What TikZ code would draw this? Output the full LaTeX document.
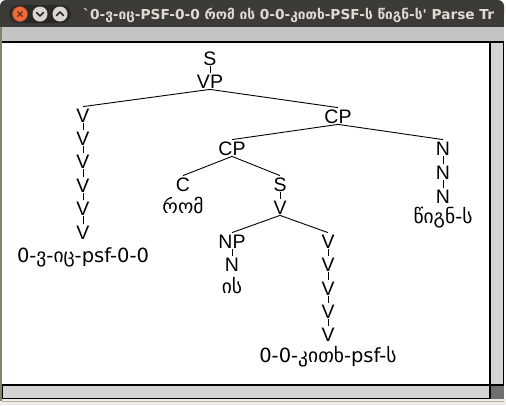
\documentclass[tikz,border=0pt]{standalone}
\usepackage{fontspec}
\setmainfont{Liberation Sans}
\newfontfamily\ka{DejaVu Sans}
\newfontfamily\tf{DejaVu Sans}
\definecolor{tbar}{HTML}{3C3B37}
\definecolor{tbtext}{HTML}{DFDBD2}
\definecolor{band}{HTML}{C4C4C4}
\definecolor{sbar}{HTML}{D4D4D4}
\definecolor{cornerc}{HTML}{6F6F6F}
\definecolor{wborder}{HTML}{877F6C}
\definecolor{bottomc}{HTML}{EFEBE6}
\definecolor{closeo}{HTML}{EF6A3A}
\definecolor{btn}{HTML}{DAD7D0}
\definecolor{pill}{HTML}{2A2926}
\tikzset{
  lab/.style={font=\fontsize{19.5}{20}\selectfont, inner sep=1.2pt, text height=14pt, text depth=0pt},
  leaf/.style={font=\ka\fontsize{19.5}{20}\selectfont, inner sep=0pt},
  edge/.style={draw=black, line width=0.9pt},
  chev/.style={draw=pill, line width=1.6pt, line cap=round, line join=round}
}
\begin{document}
\begin{tikzpicture}[x=1pt,y=-1pt]
\useasboundingbox (0,0) rectangle (506,405);
\fill[white] (0,0) rectangle (506,405);
% window frame
\fill[tbar, rounded corners=6pt] (0,0) rectangle (504,20);
\fill[tbar] (0,10) rectangle (504,27);
\fill[band] (2,27) rectangle (504,42);
\fill[bottomc] (0,399) rectangle (506,405);
\draw[wborder, line width=2pt] (1,27) -- (1,401);
\draw[wborder!60, line width=0.8pt] (2,401) -- (504,401);
% canvas
\fill[white] (2,42) rectangle (490,385);
% scrollbars
\fill[sbar] (490,42) rectangle (504,385);
\fill[sbar] (2,385) rectangle (490,399);
\fill[cornerc] (490,385) rectangle (504,399);
\draw[black, line width=1.3pt] (2,42) -- (504,42);
\draw[black, line width=1.2pt] (490,42) -- (490,399);
\draw[black, line width=1.2pt] (490,385) -- (504,385);
\draw[black, line width=1.2pt] (503.4,42) -- (503.4,385);
\draw[black, line width=1.2pt] (2.6,385) rectangle (490,398.4);
% buttons
\fill[pill, rounded corners=9pt] (9,5) rectangle (71,23);
\node[circle, fill=closeo, draw=closeo!70!black, line width=0.6pt, minimum size=15pt, inner sep=0pt] (bclose) at (20,14) {};
\node[circle, fill=btn, minimum size=15pt, inner sep=0pt] (bmin) at (40,14) {};
\node[circle, fill=btn, minimum size=15pt, inner sep=0pt] (bmax) at (60,14) {};
\draw[draw=closeo!40!black, line width=1.3pt] (17.5,11.5) -- (22.5,16.5) (17.5,16.5) -- (22.5,11.5);
\draw[chev] (36.5,12.5) -- (40,16) -- (43.5,12.5);
\draw[chev] (56.5,15.5) -- (60,12) -- (63.5,15.5);
% title
\node[anchor=base west, inner sep=0pt, text=tbtext, font=\tf\bfseries\fontsize{13.7}{15}\selectfont] (title) at (83,19)
  {`0-ვ-იც-PSF-0-0 რომ ის 0-0-კითხ-PSF-ს წიგნ-ს' Parse Tr};
% tree
\node[lab] (S) at (210,58) {S};
\node[lab] (VP) at (210,81) {VP};
\node[lab] (V1) at (83,115) {V};
\node[lab] (V2) at (83,138) {V};
\node[lab] (V3) at (83,161) {V};
\node[lab] (V4) at (83,185) {V};
\node[lab] (V5) at (83,208) {V};
\node[lab] (V6) at (83,232) {V};
\node[leaf] (L1) at (83,257) {0-ვ-იც-psf-0-0};
\node[lab] (CP) at (338,116) {CP};
\node[lab] (CPb) at (232,148) {CP};
\node[lab] (N1) at (443,148) {N};
\node[lab] (N2) at (443,172) {N};
\node[lab] (N3) at (443,196) {N};
\node[leaf] (L4) at (443,218) {წიგნ-ს};
\node[lab] (C) at (183,184) {C};
\node[leaf] (L2) at (183,205) {რომ};
\node[lab] (S2) at (280,184) {S};
\node[lab] (SV) at (280,207) {V};
\node[lab] (NP) at (232,241) {NP};
\node[lab] (NN) at (232,264) {N};
\node[leaf] (L3) at (232,286) {ის};
\node[lab] (W1) at (328,241) {V};
\node[lab] (W2) at (328,264) {V};
\node[lab] (W3) at (328,288) {V};
\node[lab] (W4) at (328,311) {V};
\node[lab] (W5) at (328,334) {V};
\node[leaf] (L5) at (328,357) {0-0-კითხ-psf-ს};
% edges
\draw[edge] (S.south) -- (VP.north);
\draw[edge] (VP.south) -- (V1.north);
\draw[edge] (VP.south) -- (CP.north);
\draw[edge] (V1.south) -- (V2.north);
\draw[edge] (V2.south) -- (V3.north);
\draw[edge] (V3.south) -- (V4.north);
\draw[edge] (V4.south) -- (V5.north);
\draw[edge] (V5.south) -- (V6.north);
\draw[edge] (CP.south) -- (CPb.north);
\draw[edge] (CP.south) -- (N1.north);
\draw[edge] (N1.south) -- (N2.north);
\draw[edge] (N2.south) -- (N3.north);
\draw[edge] (CPb.south) -- (C.north);
\draw[edge] (CPb.south) -- (S2.north);
\draw[edge] (S2.south) -- (SV.north);
\draw[edge] (SV.south) -- (NP.north);
\draw[edge] (SV.south) -- (W1.north);
\draw[edge] (NP.south) -- (NN.north);
\draw[edge] (W1.south) -- (W2.north);
\draw[edge] (W2.south) -- (W3.north);
\draw[edge] (W3.south) -- (W4.north);
\draw[edge] (W4.south) -- (W5.north);
\end{tikzpicture}
\end{document}
